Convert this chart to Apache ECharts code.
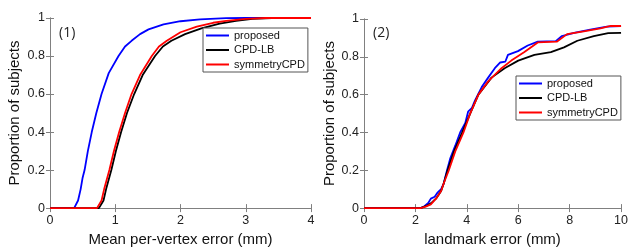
<!DOCTYPE html>
<html>
<head>
<meta charset="utf-8">
<script src="https://cdn.jsdelivr.net/npm/echarts@6/dist/echarts.min.js"></script>
<style>
  html, body { margin: 0; padding: 0; background: #fff; }
  #chart { width: 631px; height: 252px; }
</style>
</head>
<body>
<div id="chart"></div>
<script>
// legend names
const seriesNames = ["proposed", "CPD-LB", "symmetryCPD"]
const yTicks = [0, 0.2, 0.4, 0.6, 0.8, 1]

// (1) mean per-vertex error, [mm, proportion]
const vertexProposed = [[0,0],[0.37,0],[0.40,0.01],[0.43,0.04],[0.47,0.1],[0.5,0.16],[0.53,0.2],[0.58,0.3],[0.64,0.4],[0.71,0.5],[0.79,0.6],[0.9,0.71],[1.05,0.8],[1.15,0.85],[1.25,0.88],[1.38,0.915],[1.51,0.94],[1.74,0.966],[2.0,0.983],[2.3,0.993],[2.7,0.999],[3.0,1],[4,1]]
const vertexCpdLb = [[0,0],[0.75,0],[0.78,0.01],[0.82,0.04],[0.86,0.1],[0.9,0.15],[0.94,0.2],[1.01,0.3],[1.09,0.4],[1.18,0.5],[1.29,0.6],[1.42,0.7],[1.61,0.8],[1.73,0.85],[1.86,0.88],[2.07,0.915],[2.32,0.945],[2.6,0.97],[2.85,0.985],[3.1,0.995],[3.4,1],[4,1]]
const vertexSymmetry = [[0,0],[0.72,0],[0.75,0.01],[0.79,0.04],[0.83,0.1],[0.87,0.15],[0.91,0.2],[0.98,0.3],[1.06,0.4],[1.15,0.5],[1.25,0.6],[1.38,0.7],[1.56,0.8],[1.67,0.85],[1.79,0.88],[2.0,0.925],[2.25,0.955],[2.5,0.975],[2.7,0.985],[3.0,0.995],[3.3,1],[4,1]]

// (2) landmark error, [mm, proportion]
const landmarkProposed = [[0,0],[2.2,0],[2.35,0.01],[2.5,0.027],[2.6,0.05],[2.75,0.06],[2.85,0.08],[3.0,0.1],[3.1,0.13],[3.23,0.2],[3.36,0.265],[3.55,0.33],[3.74,0.4],[3.94,0.45],[4.05,0.51],[4.2,0.53],[4.32,0.57],[4.58,0.64],[4.83,0.69],[5.09,0.74],[5.3,0.77],[5.5,0.775],[5.6,0.81],[5.99,0.83],[6.37,0.86],[6.76,0.88],[7.46,0.883],[7.7,0.91],[8.17,0.927],[8.8,0.944],[9.45,0.96],[10,0.963]]
const landmarkCpdLb = [[0,0],[2.2,0],[2.4,0.01],[2.6,0.025],[2.8,0.05],[3.0,0.09],[3.1,0.13],[3.25,0.2],[3.5,0.3],[3.82,0.4],[4.13,0.5],[4.45,0.6],[4.96,0.69],[5.47,0.74],[6.0,0.78],[6.63,0.81],[7.27,0.825],[7.78,0.85],[8.3,0.885],[8.94,0.91],[9.5,0.925],[10,0.927]]
const landmarkSymmetry = [[0,0],[2.2,0],[2.4,0.008],[2.6,0.02],[2.8,0.05],[3.0,0.09],[3.1,0.13],[3.3,0.2],[3.55,0.3],[3.87,0.4],[4.13,0.5],[4.45,0.6],[4.83,0.67],[5.35,0.74],[5.73,0.78],[6.24,0.825],[6.76,0.876],[7.5,0.88],[7.9,0.92],[8.55,0.935],[9.2,0.95],[9.6,0.963],[10,0.963]]

const colors = ["#0000ff", "#000000", "#ff0000"]
const axisGrey = "#808080"
const font = "'Liberation Sans', Arial, sans-serif"

function xAxes(gridIndex, max, interval, name) {
  const base = {
    type: "value", gridIndex, min: 0, max, interval,
    splitLine: { show: false },
    axisLine: { show: true, lineStyle: { color: axisGrey, width: 1 } },
    axisTick: { show: true, inside: true, length: 4, lineStyle: { color: axisGrey } },
  }
  return [
    { ...base, position: "bottom", name, nameLocation: "middle", nameGap: 21,
      nameTextStyle: { fontSize: 15, color: "#111", fontFamily: font },
      axisLabel: { fontSize: 12.5, color: "#222", margin: 6, fontFamily: font } },
    { ...base, position: "top", axisLabel: { show: false } },
  ]
}

function yAxes(gridIndex, nameGap) {
  const base = {
    type: "value", gridIndex, min: 0, max: 1, interval: 0.2,
    splitLine: { show: false },
    axisLine: { show: true, lineStyle: { color: axisGrey, width: 1 } },
    axisTick: { show: true, inside: true, length: 4, lineStyle: { color: axisGrey } },
  }
  return [
    { ...base, position: "left", name: "Proportion of subjects", nameLocation: "middle", nameGap,
      nameTextStyle: { fontSize: 15, color: "#111", fontFamily: font },
      axisLabel: { fontSize: 12.5, color: "#222", margin: 5, fontFamily: font } },
    { ...base, position: "right", axisLabel: { show: false } },
  ]
}

function line(name, data, idx, color) {
  return {
    name, type: "line", data, xAxisIndex: idx * 2, yAxisIndex: idx * 2,
    showSymbol: false, symbol: "none", animation: false,
    lineStyle: { color, width: 1.8 }, itemStyle: { color },
  }
}

function legend(left, top) {
  return {
    left, top, orient: "vertical", data: seriesNames,
    icon: "rect", itemWidth: 23, itemHeight: 2, itemGap: 1.5,
    padding: [1, 3, 1, 3],
    borderColor: "#555", borderWidth: 1, backgroundColor: "#fff",
    textStyle: { fontSize: 11, color: "#111", fontFamily: font, lineHeight: 13 },
  }
}

const chart = echarts.init(document.getElementById("chart"), null, { renderer: "canvas" })
chart.setOption({
  animation: false,
  grid: [
    { left: 50, top: 18, width: 261, height: 197 },
    { left: 364, top: 19, width: 260, height: 196 },
  ],
  xAxis: [...xAxes(0, 4, 1, "Mean per-vertex error (mm)"), ...xAxes(1, 10, 2, "landmark error (mm)")],
  yAxis: [...yAxes(0, 28), ...yAxes(1, 26)],
  legend: [legend(203, 28), legend(516, 76)],
  graphic: [
    { type: "text", left: 59, top: 26, style: { text: "(1)", fontSize: 14, fill: "#222", fontFamily: "'Open Sans', sans-serif" } },
    { type: "text", left: 373, top: 26, style: { text: "(2)", fontSize: 14, fill: "#222", fontFamily: "'Open Sans', sans-serif" } },
  ],
  series: [
    line(seriesNames[0], vertexProposed, 0, colors[0]),
    line(seriesNames[1], vertexCpdLb, 0, colors[1]),
    line(seriesNames[2], vertexSymmetry, 0, colors[2]),
    line(seriesNames[0], landmarkProposed, 1, colors[0]),
    line(seriesNames[1], landmarkCpdLb, 1, colors[1]),
    line(seriesNames[2], landmarkSymmetry, 1, colors[2]),
  ],
})
</script>
</body>
</html>
